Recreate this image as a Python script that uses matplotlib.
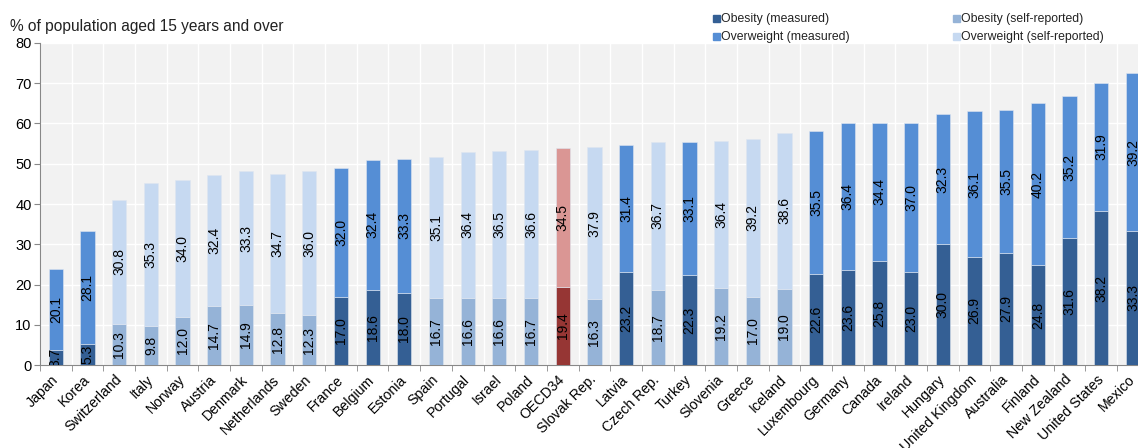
import matplotlib
matplotlib.use("Agg")
import matplotlib.pyplot as plt
import matplotlib.transforms as mtransforms
from matplotlib.patches import Rectangle

countries = ["Japan", "Korea", "Switzerland", "Italy", "Norway", "Austria", "Denmark",
             "Netherlands", "Sweden", "France", "Belgium", "Estonia", "Spain", "Portugal",
             "Israel", "Poland", "OECD34", "Slovak Rep.", "Latvia", "Czech Rep.", "Turkey",
             "Slovenia", "Greece", "Iceland", "Luxembourg", "Germany", "Canada", "Ireland",
             "Hungary", "United Kingdom", "Australia", "Finland", "New Zealand",
             "United States", "Mexico"]
obesity = [3.7, 5.3, 10.3, 9.8, 12.0, 14.7, 14.9, 12.8, 12.3, 17.0, 18.6, 18.0, 16.7, 16.6,
           16.6, 16.7, 19.4, 16.3, 23.2, 18.7, 22.3, 19.2, 17.0, 19.0, 22.6, 23.6, 25.8, 23.0,
           30.0, 26.9, 27.9, 24.8, 31.6, 38.2, 33.3]
overweight = [20.1, 28.1, 30.8, 35.3, 34.0, 32.4, 33.3, 34.7, 36.0, 32.0, 32.4, 33.3, 35.1, 36.4,
              36.5, 36.6, 34.5, 37.9, 31.4, 36.7, 33.1, 36.4, 39.2, 38.6, 35.5, 36.4, 34.4, 37.0,
              32.3, 36.1, 35.5, 40.2, 35.2, 31.9, 39.2]
# M = measured, S = self-reported, O = OECD average
source = ["M", "M", "S", "S", "S", "S", "S", "S", "S", "M", "M", "M", "S", "S", "S", "S", "O",
          "S", "M", "S", "M", "S", "S", "S", "M", "M", "M", "M", "M", "M", "M", "M", "M", "M", "M"]

colors = {
    "M": ("#345f94", "#558ed5"),
    "S": ("#95b3d7", "#c6d9f1"),
    "O": ("#963634", "#da9694"),
}

plt.rcParams["font.family"] = ["Liberation Sans", "DejaVu Sans"]

W, H = 1138, 448
fig = plt.figure(figsize=(W / 100, H / 100), dpi=100)
ax = fig.add_axes([40 / W, 1 - 365 / H, 1 - 40 / W, (365 - 43) / H])
ax.set_facecolor("#f2f2f2")

x = list(range(len(countries)))
bw = 0.45
for i in x:
    c_ob, c_ov = colors[source[i]]
    ax.bar(i, obesity[i], width=bw, color=c_ob, edgecolor="#dfe6f0", linewidth=0.4, zorder=3)
    ax.bar(i, overweight[i], bottom=obesity[i], width=bw, color=c_ov, edgecolor="#dfe6f0",
           linewidth=0.4, zorder=3)
    ax.text(i, obesity[i] / 2, f"{obesity[i]:.1f}", rotation=90, ha="center", va="center",
            fontsize=10, color="black", zorder=4, clip_on=True)
    ax.text(i, obesity[i] + overweight[i] / 2, f"{overweight[i]:.1f}", rotation=90,
            ha="center", va="center", fontsize=10, color="black", zorder=4, clip_on=True)

ax.set_yticks(range(0, 81, 10))
ax.set_xticks(x)
ax.set_xticklabels(countries, rotation=45, ha="right", va="center", rotation_mode="anchor",
                   fontsize=10.2)
ax.set_xticks([i + 0.5 for i in range(-1, len(countries))], minor=True)
ax.set_xlim(-0.5, 34.16)
ax.set_ylim(0, 80)
ax.tick_params(axis="x", which="major", length=0, pad=9)
ax.tick_params(axis="x", which="minor", length=4, color="#888888")
ax.tick_params(axis="y", length=4, color="#888888", labelsize=10.5, pad=2)

ax.grid(True, axis="y", color="white", linewidth=1.0, zorder=0)
ax.grid(True, axis="x", which="minor", color="white", linewidth=1.0, zorder=0)
ax.set_axisbelow(True)
for s in ["top", "right"]:
    ax.spines[s].set_visible(False)
for s in ["left", "bottom"]:
    ax.spines[s].set_color("#888888")

fig.text(10 / W, 1 - 26 / H, "% of population aged 15 years and over", fontsize=11.2,
         ha="left", va="center", color="#222222")

legend_items = [
    ("Obesity (measured)", colors["M"][0], 713, 19),
    ("Overweight (measured)", colors["M"][1], 713, 37),
    ("Obesity (self-reported)", colors["S"][0], 953, 19),
    ("Overweight (self-reported)", colors["S"][1], 953, 37),
]
for label, col, px, py in legend_items:
    fig.add_artist(Rectangle((px / W, 1 - (py + 3.5) / H), 7 / W, 7 / H,
                             transform=fig.transFigure, color=col))
    fig.text((px + 8) / W, 1 - py / H, label, fontsize=8.8, ha="left", va="center",
             color="#222222")

fig.savefig("out.png", dpi=100)
